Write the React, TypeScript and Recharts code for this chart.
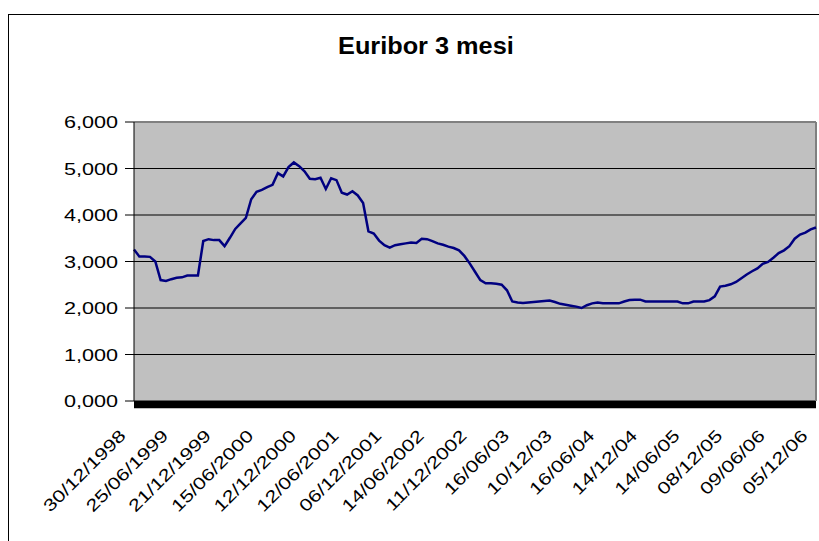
import React from "react";
import {
  LineChart,
  Line,
  XAxis,
  YAxis,
  CartesianGrid,
  ReferenceArea,
  ReferenceLine,
} from "recharts";

const FONT = '"Liberation Sans", Arial, sans-serif';

// tick labels along the category axis (one every 8 samples)
const dateLabels = [
  "30/12/1998", "25/06/1999", "21/12/1999", "15/06/2000", "12/12/2000",
  "12/06/2001", "06/12/2001", "14/06/2002", "11/12/2002", "16/06/03",
  "10/12/03", "16/06/04", "14/12/04", "14/06/05", "08/12/05",
  "09/06/06", "05/12/06",
];

// Euribor 3 months
const euribor = [
  3.26, 3.11, 3.11, 3.10, 3.00, 2.60, 2.58, 2.62,
  2.65, 2.66, 2.70, 2.70, 2.70, 3.44, 3.48, 3.46,
  3.46, 3.33, 3.51, 3.70, 3.82, 3.94, 4.34, 4.50,
  4.54, 4.60, 4.65, 4.90, 4.83, 5.03, 5.13, 5.05,
  4.94, 4.78, 4.77, 4.80, 4.56, 4.79, 4.75, 4.48,
  4.44, 4.51, 4.42, 4.26, 3.65, 3.60, 3.45, 3.35,
  3.30, 3.35, 3.37, 3.39, 3.41, 3.40, 3.49, 3.48,
  3.44, 3.39, 3.36, 3.32, 3.29, 3.24, 3.12, 2.96,
  2.78, 2.60, 2.53, 2.53, 2.52, 2.50, 2.38, 2.14,
  2.12, 2.11, 2.12, 2.13, 2.14, 2.15, 2.16, 2.13,
  2.09, 2.07, 2.05, 2.03, 2.00, 2.06, 2.10, 2.12,
  2.10, 2.10, 2.10, 2.10, 2.14, 2.17, 2.18, 2.18,
  2.14, 2.14, 2.14, 2.14, 2.14, 2.14, 2.14, 2.10,
  2.10, 2.14, 2.14, 2.14, 2.17, 2.25, 2.46, 2.48,
  2.51, 2.56, 2.64, 2.72, 2.79, 2.85, 2.95, 2.99,
  3.08, 3.18, 3.24, 3.33, 3.49, 3.58, 3.62, 3.69,
  3.73,
];

const yTicks = [0, 1, 2, 3, 4, 5, 6];
const STEP = 8;
// excel draws the axis font stretched sideways
const STRETCH = 1.27;

const data = euribor.map((v, i) => ({ i, v }));
const last = euribor.length - 1;
const xTicks = dateLabels.map((_, k) => k * STEP);

function DateTick(props: any) {
  const { x, y, payload } = props;
  const label = dateLabels[Math.round(payload.value / STEP)];
  return (
    <g transform={`translate(${x - 16},${y + 27}) rotate(-45) scale(${STRETCH},1)`}>
      <text
        x={0}
        y={0}
        dy="0.72em"
        textAnchor="end"
        fill="#000"
        style={{ fontFamily: FONT, fontSize: 17 }}
      >
        {label}
      </text>
    </g>
  );
}

function ValueTick(props: any) {
  const { x, y, payload } = props;
  return (
    <g transform={`translate(${x},${y}) scale(${STRETCH},1)`}>
      <text
        x={0}
        y={0}
        dy="0.36em"
        textAnchor="end"
        fill="#000"
        style={{ fontFamily: FONT, fontSize: 17 }}
      >
        {payload.value.toFixed(3).replace(".", ",")}
      </text>
    </g>
  );
}

export default function App() {
  return (
    <div
      style={{
        position: "absolute",
        left: 0,
        top: 0,
        width: 819,
        height: 541,
        overflow: "hidden",
        background: "#fff",
      }}
    >
      <div
        style={{
          position: "absolute",
          left: 8,
          top: 14,
          width: 840,
          height: 560,
          border: "1px solid #000",
        }}
      />
      <div
        style={{
          position: "absolute",
          left: 0,
          top: 35,
          width: 851,
          textAlign: "center",
          fontFamily: FONT,
          fontWeight: "bold",
          fontSize: 23,
          lineHeight: "23px",
          color: "#000",
        }}
      >
        <span style={{ display: "inline-block", transform: "scaleX(1.1)" }}>
          Euribor 3 mesi
        </span>
      </div>
      <div style={{ position: "absolute", left: 0, top: 0 }}>
        <LineChart
          width={819}
          height={541}
          data={data}
          margin={{ top: 122, right: 3, bottom: 0, left: 0 }}
        >
          <CartesianGrid
            vertical={false}
            stroke="#000"
            fill="#C0C0C0"
            fillOpacity={1}
          />
          <XAxis
            dataKey="i"
            type="number"
            domain={[0, last]}
            ticks={xTicks}
            interval={0}
            height={140}
            axisLine={false}
            tickLine={false}
            tickSize={0}
            tickMargin={0}
            tick={<DateTick />}
          />
          <YAxis
            domain={[0, 6]}
            ticks={yTicks}
            width={134}
            interval={0}
            tickSize={9}
            tickMargin={7}
            axisLine={{ stroke: "#000" }}
            tickLine={{ stroke: "#000" }}
            tick={<ValueTick />}
          />
          <ReferenceLine y={6} stroke="#808080" strokeWidth={2} />
          <ReferenceLine x={last} stroke="#808080" strokeWidth={2} />
          <ReferenceArea
            x1={0}
            x2={last}
            y1={-0.155}
            y2={0}
            ifOverflow="visible"
            fill="#000"
            fillOpacity={1}
            stroke="none"
          />
          <Line
            dataKey="v"
            type="linear"
            stroke="#000080"
            strokeWidth={2.5}
            dot={false}
            isAnimationActive={false}
          />
        </LineChart>
      </div>
    </div>
  );
}
